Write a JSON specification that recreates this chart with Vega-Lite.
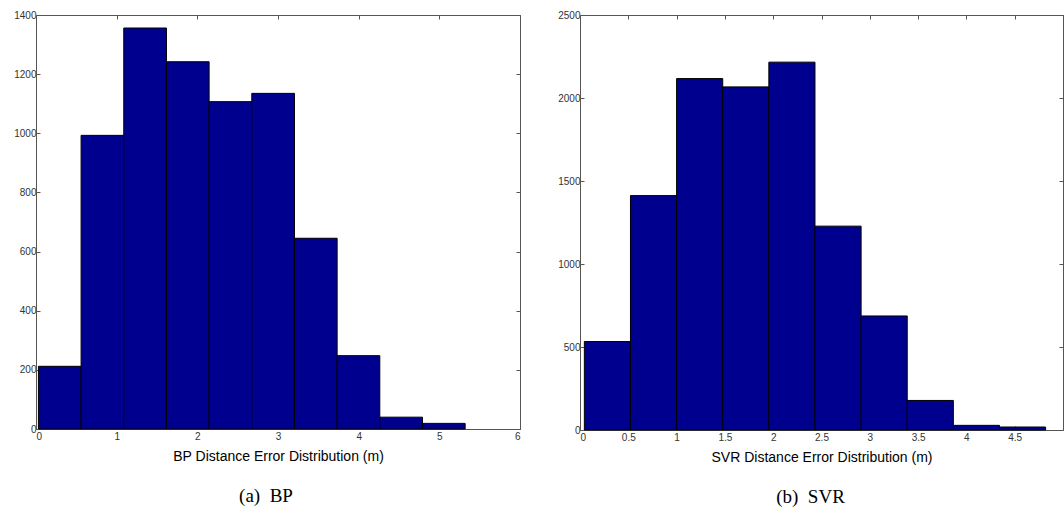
{
  "$schema": "https://vega.github.io/schema/vega-lite/v6.json",
  "background": "white",
  "padding": {"left": 13, "top": 10, "right": 0, "bottom": 0},
  "spacing": 36,
  "config": {
    "view": {"stroke": null},
    "axis": {
      "grid": false,
      "labelFont": "Liberation Sans",
      "labelFontSize": 10,
      "labelColor": "#333",
      "labelPadding": 4,
      "titleFont": "Liberation Sans",
      "titleFontSize": 14,
      "titleFontWeight": "normal",
      "titleColor": "#000",
      "domainColor": "#555",
      "tickColor": "#555",
      "tickSize": -4,
      "format": "~f"
    },
    "axisBottom": {"labelPadding": 6},
    "title": {"font": "Liberation Serif", "fontSize": 19, "fontWeight": "normal", "color": "#000"}
  },
  "hconcat": [
    {
      "width": 484,
      "height": 414,
      "title": {"text": "(a)\u00a0 BP", "orient": "bottom", "offset": 24, "dx": -12},
      "data": {"values": [
        {"start": 0.03, "end": 0.559, "count": 212},
        {"start": 0.559, "end": 1.088, "count": 993},
        {"start": 1.088, "end": 1.617, "count": 1356},
        {"start": 1.617, "end": 2.146, "count": 1242},
        {"start": 2.146, "end": 2.675, "count": 1107},
        {"start": 2.675, "end": 3.204, "count": 1135},
        {"start": 3.204, "end": 3.733, "count": 645},
        {"start": 3.733, "end": 4.262, "count": 248},
        {"start": 4.262, "end": 4.791, "count": 40},
        {"start": 4.791, "end": 5.32, "count": 19}
      ]},
      "layer": [
        {
          "mark": {"type": "bar", "color": "#00008f", "stroke": "#000", "strokeWidth": 1},
          "encoding": {
            "x": {"field": "start", "type": "quantitative", "scale": {"domain": [0, 6], "nice": false},
                  "axis": {"orient": "bottom", "values": [0, 1, 2, 3, 4, 5, 6], "title": "BP Distance Error Distribution (m)", "titlePadding": 8}},
            "x2": {"field": "end"},
            "y": {"field": "count", "type": "quantitative", "scale": {"domain": [0, 1400], "nice": false},
                  "axis": {"orient": "left", "values": [0, 200, 400, 600, 800, 1000, 1200, 1400], "title": null}},
            "y2": {"datum": 0}
          }
        },
        {
          "mark": {"type": "bar", "opacity": 0},
          "encoding": {
            "x": {"field": "start", "type": "quantitative",
                  "axis": {"orient": "top", "values": [0, 1, 2, 3, 4, 5, 6], "labels": false, "title": null}},
            "x2": {"field": "end"},
            "y": {"field": "count", "type": "quantitative",
                  "axis": {"orient": "right", "values": [0, 200, 400, 600, 800, 1000, 1200, 1400], "labels": false, "title": null}},
            "y2": {"datum": 0}
          }
        }
      ],
      "resolve": {"axis": {"x": "independent", "y": "independent"}}
    },
    {
      "width": 483,
      "height": 415,
      "title": {"text": "(b)\u00a0 SVR", "orient": "bottom", "offset": 24, "dx": -11},
      "data": {"values": [
        {"start": 0.045, "end": 0.5225, "count": 533},
        {"start": 0.5225, "end": 1.0, "count": 1412},
        {"start": 1.0, "end": 1.4775, "count": 2117},
        {"start": 1.4775, "end": 1.955, "count": 2067},
        {"start": 1.955, "end": 2.4325, "count": 2216},
        {"start": 2.4325, "end": 2.91, "count": 1228},
        {"start": 2.91, "end": 3.3875, "count": 687},
        {"start": 3.3875, "end": 3.865, "count": 178},
        {"start": 3.865, "end": 4.3425, "count": 28},
        {"start": 4.3425, "end": 4.82, "count": 18}
      ]},
      "layer": [
        {
          "mark": {"type": "bar", "color": "#00008f", "stroke": "#000", "strokeWidth": 1},
          "encoding": {
            "x": {"field": "start", "type": "quantitative", "scale": {"domain": [0, 5], "nice": false},
                  "axis": {"orient": "bottom", "values": [0, 0.5, 1, 1.5, 2, 2.5, 3, 3.5, 4, 4.5], "title": "SVR Distance Error Distribution (m)", "titlePadding": 8}},
            "x2": {"field": "end"},
            "y": {"field": "count", "type": "quantitative", "scale": {"domain": [0, 2500], "nice": false},
                  "axis": {"orient": "left", "values": [0, 500, 1000, 1500, 2000, 2500], "title": null}},
            "y2": {"datum": 0}
          }
        },
        {
          "mark": {"type": "bar", "opacity": 0},
          "encoding": {
            "x": {"field": "start", "type": "quantitative",
                  "axis": {"orient": "top", "values": [0, 0.5, 1, 1.5, 2, 2.5, 3, 3.5, 4, 4.5, 5], "labels": false, "title": null}},
            "x2": {"field": "end"},
            "y": {"field": "count", "type": "quantitative",
                  "axis": {"orient": "right", "values": [0, 500, 1000, 1500, 2000, 2500], "labels": false, "title": null}},
            "y2": {"datum": 0}
          }
        }
      ],
      "resolve": {"axis": {"x": "independent", "y": "independent"}}
    }
  ]
}
